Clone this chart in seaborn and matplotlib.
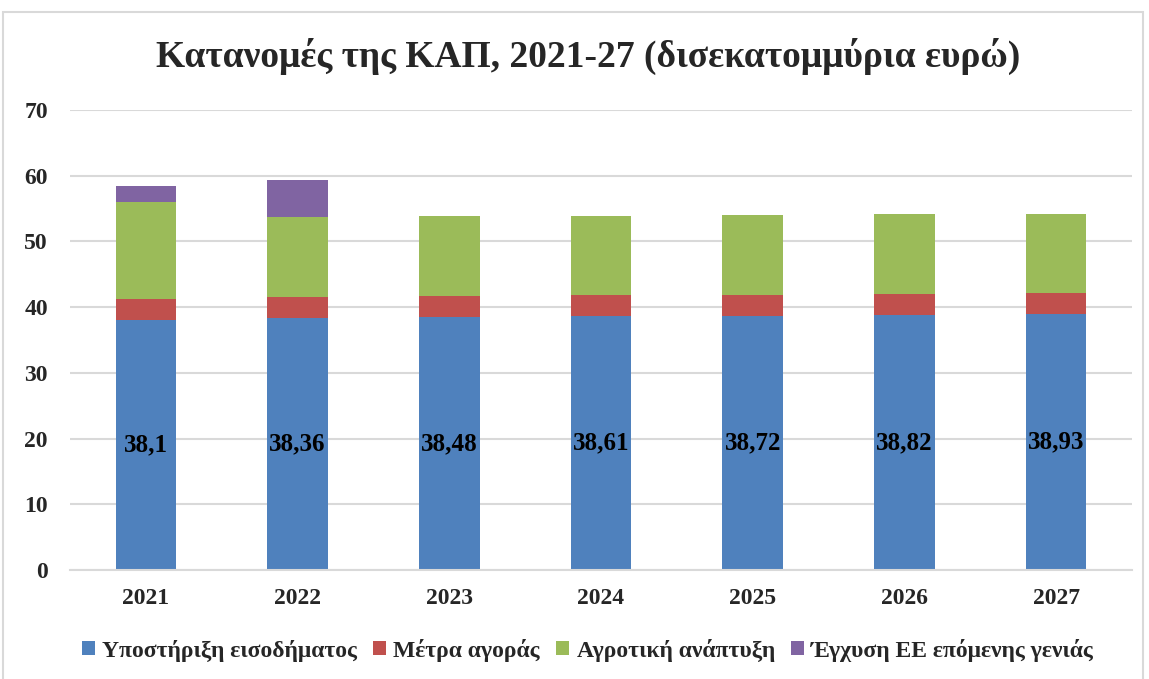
import matplotlib
matplotlib.use("Agg")
import matplotlib.pyplot as plt
import seaborn as sns
import pandas as pd
import numpy as np
from matplotlib.patches import Rectangle, Patch

years = ["2021", "2022", "2023", "2024", "2025", "2026", "2027"]
income_support = [38.10, 38.36, 38.48, 38.61, 38.72, 38.82, 38.93]
market_measures = [3.07, 3.12, 3.15, 3.17, 3.20, 3.20, 3.20]
rural_dev = [14.80, 12.17, 12.17, 12.10, 12.07, 12.15, 12.12]
nextgen = [2.39, 5.68, 0, 0, 0, 0, 0]
labels_txt = ["38,1", "38,36", "38,48", "38,61", "38,72", "38,82", "38,93"]

series_names = ["Υποστήριξη εισοδήματος", "Μέτρα αγοράς", "Αγροτική ανάπτυξη",
                "Έγχυση ΕΕ επόμενης γενιάς"]
colors = ["#4F81BD", "#C0504D", "#9BBB59", "#8064A2"]

sns.set_theme(style="white")
plt.rcParams['font.family'] = ['Liberation Serif', 'DejaVu Serif']
plt.rcParams['font.weight'] = 'bold'

fig = plt.figure(figsize=(11.49, 6.79), dpi=100)
ax = fig.add_axes([70/1149, 1-570/679, (1132-70)/1149, (570-110)/679])

layers = [income_support, market_measures, rural_dev, nextgen]
cum = np.cumsum(np.array(layers), axis=0)
# draw tallest cumulative first
for i in range(3, -1, -1):
    df = pd.DataFrame({"year": years, "value": cum[i]})
    sns.barplot(data=df, x="year", y="value", color=colors[i], width=0.4,
                saturation=1, ax=ax, edgecolor="none", linewidth=0)

for j, (v, t) in enumerate(zip(income_support, labels_txt)):
    ax.text(j, v/2, t, ha="center", va="center", fontsize=18, fontweight="bold",
            color="black")

ax.set_ylim(0, 70)
ax.set_xlim(-0.5, 6.5)
ax.set_yticks(range(0, 71, 10))
ax.yaxis.grid(True, color="#D9D9D9", linewidth=1.5)
ax.set_axisbelow(True)
for s in ["top", "right", "left"]:
    ax.spines[s].set_visible(False)
ax.spines["bottom"].set_color("#D9D9D9")
ax.spines["bottom"].set_linewidth(1.5)
ax.tick_params(axis="both", length=0, labelsize=17)
ax.tick_params(axis="y", pad=16)
ax.tick_params(axis="x", pad=13)
for lab in ax.get_xticklabels() + ax.get_yticklabels():
    lab.set_fontweight("bold")
ax.set_xlabel("")
ax.set_ylabel("")

fig.text(588/1149, 1-56/679, "Κατανομές της ΚΑΠ, 2021-27 (δισεκατομμύρια ευρώ)",
         ha="center", va="center", fontsize=27, fontweight="bold")

handles = [Patch(facecolor=c, edgecolor="none") for c in colors]
fig.legend(handles, series_names, loc="center", bbox_to_anchor=(588/1149, 1-650/679),
           ncol=4, frameon=False, handlelength=0.55, handleheight=0.55,
           handletextpad=0.3, columnspacing=0.7,
           prop={"size": 17, "weight": "bold", "family": "Liberation Serif"})

fig.patches.append(Rectangle((3/1149, -0.05), (1143-3)/1149, 1.05-12/679,
                             transform=fig.transFigure, fill=False,
                             edgecolor="#D9D9D9", linewidth=1.5))

fig.savefig("out.png", dpi=100)
